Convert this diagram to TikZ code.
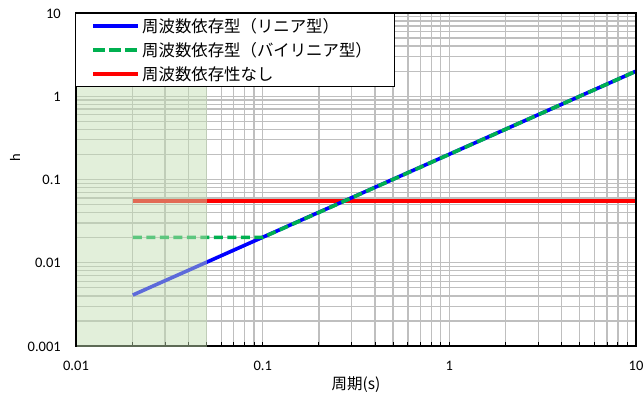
\documentclass[tikz,border=0pt]{standalone}
\usepackage{fontspec}
\setmainfont{Carlito}
\newfontfamily\jp{Noto Sans CJK JP}
\definecolor{gridgray}{RGB}{191,191,191}
\definecolor{shadegreen}{RGB}{195,222,178}
\definecolor{cblue}{RGB}{0,0,255}
\definecolor{cgreen}{RGB}{0,176,80}
\definecolor{cred}{RGB}{255,0,0}
\pgfmathdeclarefunction{PX}{1}{\pgfmathparse{76+186.667*(log10(#1)+2)}}
\pgfmathdeclarefunction{PY}{1}{\pgfmathparse{13+83.25*(1-log10(#1))}}
\begin{document}
\begin{tikzpicture}[x=1pt,y=-1pt,
  gridline/.style={draw=gridgray,line width=1.3pt},
  tickmark/.style={draw=black,line width=1pt},
  axisline/.style={draw=black,line width=2pt},
  frameline/.style={draw=black,line width=1.2pt},
  serie/.style={line width=3.6pt},
  dashserie/.style={line width=3.6pt,dash pattern=on 9pt off 4.5pt},
  ticklabel/.style={font=\fontsize{14.5}{16}\selectfont,inner sep=0pt},
  legtext/.style={font=\jp\fontsize{16.4}{18}\selectfont,anchor=west,inner sep=0pt}]
\useasboundingbox (0,0) rectangle (644,393);
\fill[white] (0,0) rectangle (644,393);
% grid
\foreach \n in {-2,-1,0}{
  \foreach \k in {1,...,9}{
    \pgfmathsetmacro\xx{76+186.667*(\n+2+log10(\k))}
    \draw[gridline] (\xx,13) -- (\xx,346);
    \draw[tickmark] (\xx,346) -- (\xx,342);
  }
}
\foreach \n in {-3,-2,-1,0}{
  \foreach \k in {1,...,9}{
    \pgfmathsetmacro\yy{13+83.25*(1-(\n+log10(\k)))}
    \draw[gridline] (76,\yy) -- (636,\yy);
  }
}
% bottom axis
\draw[axisline] (76,346) -- (637,346);
% data series
\coordinate (r0) at ({PX(0.02)},{PY(0.055)});
\coordinate (r1) at ({PX(10)},{PY(0.055)});
\coordinate (b0) at ({PX(0.02)},{PY(0.004)});
\coordinate (b1) at ({PX(10)},{PY(2)});
\coordinate (g0) at ({PX(0.02)},{PY(0.02)});
\coordinate (gk) at ({PX(0.1)},{PY(0.02)});
\draw[serie,cred] (r0) -- (r1);
\draw[serie,cblue] (b0) -- (b1);
\draw[dashserie,cgreen] (g0) -- (gk) -- (b1);
% shaded short-period region
\fill[shadegreen,fill opacity=0.48] (76,13) rectangle ({PX(0.05)},347);
% frame
\draw[frameline] (76,13) -- (636,13) -- (636,346);
\draw[axisline] (76,12) -- (76,347);
% legend
\node[draw=black,fill=white,line width=1pt,minimum width=319pt,minimum height=73pt,anchor=north west,inner sep=0pt] (legend) at (75,13) {};
\coordinate (l1a) at (93,26); \coordinate (l1b) at (138,26);
\coordinate (l2a) at (93,50); \coordinate (l2b) at (138,50);
\coordinate (l3a) at (93,74); \coordinate (l3b) at (138,74);
\draw[serie,cblue] (l1a) -- (l1b);
\draw[line width=3.6pt,cgreen,dash pattern=on 12pt off 4pt] (l2a) -- (l2b);
\draw[serie,cred] (l3a) -- (l3b);
\node[legtext] (t1) at (142,26) {周波数依存型（リニア型）};
\node[legtext] (t2) at (142,50) {周波数依存型（バイリニア型）};
\node[legtext] (t3) at (142,74) {周波数依存性なし};
% y tick labels
\node[ticklabel,anchor=east] (y10) at (61,14) {10};
\node[ticklabel,anchor=east] (y1) at (61,97) {1};
\node[ticklabel,anchor=east] (y01) at (61,180) {0.1};
\node[ticklabel,anchor=east] (y001) at (61,263) {0.01};
\node[ticklabel,anchor=east] (y0001) at (61,347) {0.001};
% x tick labels
\node[ticklabel] (x001) at (76,366) {0.01};
\node[ticklabel] (x01) at ({PX(0.1)},366) {0.1};
\node[ticklabel] (x1) at ({PX(1)},366) {1};
\node[ticklabel] (x10) at (636,366) {10};
% axis titles
\node[ticklabel,rotate=90] (ytitle) at (15,158) {h};
\node[font=\jp\fontsize{15.5}{17}\selectfont,inner sep=0pt] (xtitle) at (356,385) {周期(s)};
\end{tikzpicture}
\end{document}
